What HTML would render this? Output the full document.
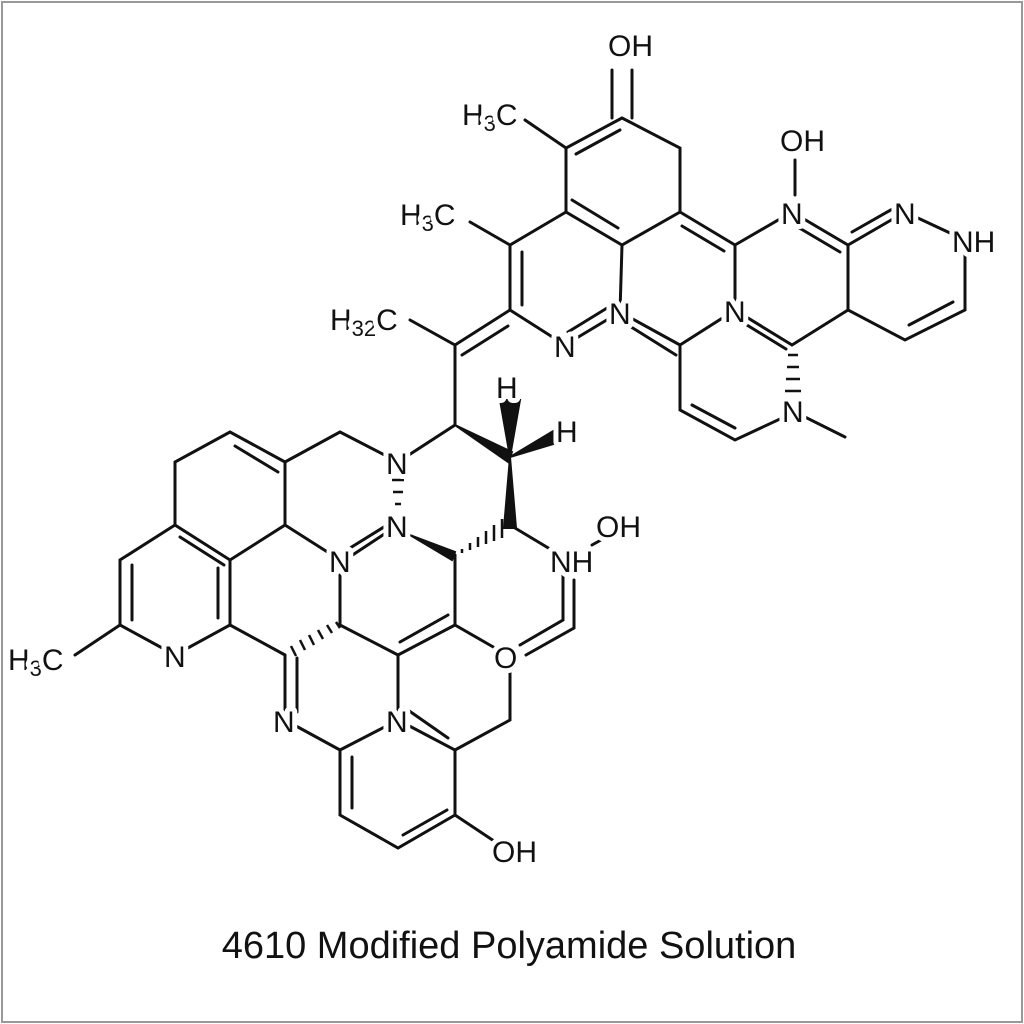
<!DOCTYPE html>
<html><head><meta charset="utf-8"><style>
body{margin:0;background:#fff}
svg{display:block}
text{font-family:"Liberation Sans",sans-serif;font-size:30px;fill:#111;paint-order:stroke;stroke:#fff;stroke-width:10px;stroke-linejoin:round}
</style></head><body>
<svg width="1024" height="1024" viewBox="0 0 1024 1024">
<rect x="2" y="2" width="1020" height="1020" fill="#fff" stroke="#999" stroke-width="2"/>
<g stroke="#111" stroke-width="3" fill="none" stroke-linecap="round">
<path d="M622,118 L566,148 L566,212 L622,245 L680,212 L680,148 Z"/>
<path d="M612,70 V118 M632,70 V118"/>
<path d="M620,130 L576,154"/>
<path d="M572,200 L618,228"/>
<path d="M525,120 L566,148"/>
<path d="M470,222 L510,245 L566,212"/>
<path d="M510,245 L510,310 M522,252 L522,305"/>
<path d="M510,310 L565,345 M565,345 L620,312 M568,332 L612,305"/>
<path d="M620,312 L622,245 M620,312 L680,345 M628,325 L676,355"/>
<path d="M680,212 L735,245 M682,226 L724,251"/>
<path d="M735,245 L792,212 L848,245 L905,212 M796,226 L840,252 M852,232 L896,207"/>
<path d="M905,212 L965,240 L965,310 L905,340 L848,310 L848,245 M953,302 L909,325"/>
<path d="M735,245 L735,310 L680,345 M735,310 L792,345 L848,310 M742,322 L786,349"/>
<path d="M795,160 V195"/>
<path d="M680,345 L680,410 L735,440 L795,412 L845,437 M692,405 L735,428"/>
<path d="M410,320 L455,345 L510,310 M462,355 L508,326"/>
<path d="M455,345 L455,425 L398,462 L340,432 L285,462"/>
<path d="M285,462 L230,432 L175,462 L175,525 L230,560 L285,525 Z"/>
<path d="M278,472 L235,446"/>
<path d="M180,537 L224,565"/>
<path d="M175,525 L120,560 L120,625 L175,655 L230,625 L230,560 M132,565 L132,620 M218,568 L218,618"/>
<path d="M75,655 L120,625"/>
<path d="M285,525 L340,560 M345,560 L398,525 M350,548 L392,522"/>
<path d="M230,625 L285,655 M340,625 L398,655 L455,625 M400,642 L448,615"/>
<path d="M340,575 L340,625"/>
<path d="M285,655 L285,720 M297,658 L297,712"/>
<path d="M285,720 L340,750 L398,720 L455,750 L455,815 L398,848 L340,815 L340,750"/>
<path d="M352,757 L352,808 M403,835 L447,810 M405,708 L448,738"/>
<path d="M398,655 L398,720 M455,750 L510,720 L510,668"/>
<path d="M455,815 L500,845"/>
<path d="M455,625 L455,555 M455,625 L495,648"/>
<path d="M510,525 L560,555 M563,575 L563,620 L520,645 M574,580 L574,628 L526,655"/>
<path d="M592,545 L610,535"/>
</g>
<g fill="#111" stroke="#111" stroke-width="2">
<polygon points="455,425 512,452 508,462"/>
<polygon points="510,457 500,400 520,400"/>
<polygon points="510,457 555,430 560,442"/>
<polygon points="510,457 504,528 516,528"/>
<polygon points="410,535 455,552 452,560"/>
</g>
<g stroke="#111" stroke-width="2.5">
<path d="M392,480 H404 M393,492 H403 M395,504 H401"/>
<path d="M462,553 v-4 M470,550 v-7 M478,547 v-10 M486,544 v-13 M494,541 v-16 M502,538 v-19"/>
<path d="M336,622 l4,6 M327,625 l5,8 M318,630 l5,9 M309,635 l5,10 M300,640 l5,10 M291,646 l5,10"/>
<path d="M788,355 H798 M787,367 H799 M786,379 H800 M785,391 H801"/>
</g>
<text x="608" y="56">OH</text>
<text x="462" y="125">H<tspan font-size="22" dy="6">3</tspan><tspan dy="-6">C</tspan></text>
<text x="400" y="225">H<tspan font-size="22" dy="6">3</tspan><tspan dy="-6">C</tspan></text>
<text x="330" y="330">H<tspan font-size="22" dy="6">32</tspan><tspan dy="-6">C</tspan></text>
<text x="780" y="151">OH</text>
<text x="781" y="224">N</text>
<text x="894" y="224">N</text>
<text x="952" y="252">NH</text>
<text x="724" y="322">N</text>
<text x="609" y="324">N</text>
<text x="554" y="357">N</text>
<text x="782" y="422">N</text>
<text x="496" y="398">H</text>
<text x="556" y="442">H</text>
<text x="386" y="474">N</text>
<text x="386" y="537">N</text>
<text x="329" y="572">N</text>
<text x="550" y="572">NH</text>
<text x="596" y="537">OH</text>
<text x="494" y="668">O</text>
<text x="8" y="670">H<tspan font-size="22" dy="6">3</tspan><tspan dy="-6">C</tspan></text>
<text x="164" y="667">N</text>
<text x="273" y="732">N</text>
<text x="386" y="732">N</text>
<text x="492" y="862">OH</text>
<text x="509" y="958" text-anchor="middle" style="font-size:38px;stroke-width:0">4610 Modified Polyamide Solution</text>
</svg>
</body></html>
